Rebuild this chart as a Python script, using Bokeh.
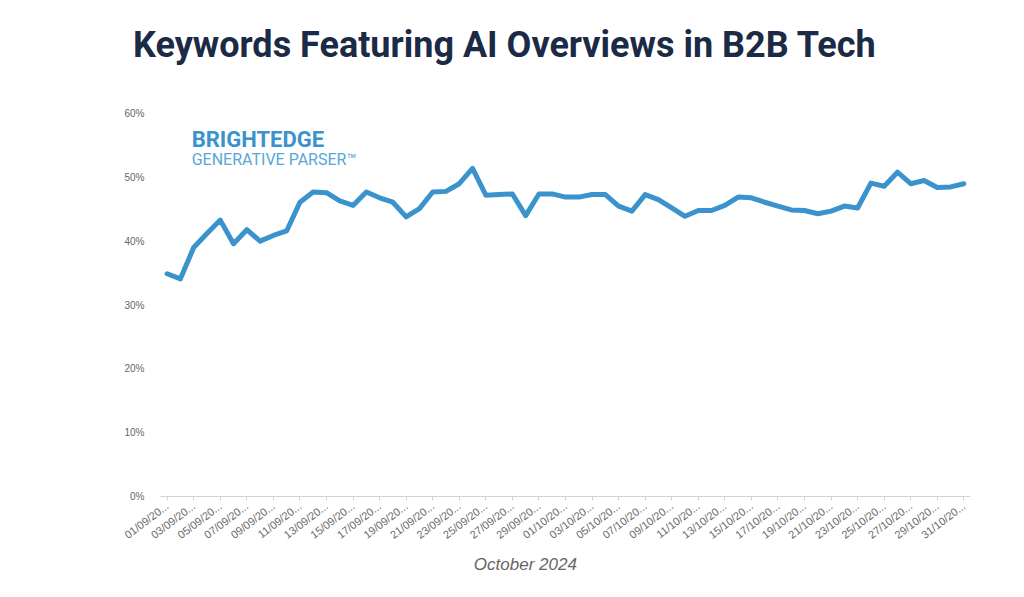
from bokeh.plotting import figure
from bokeh.models import ColumnDataSource, FixedTicker, PrintfTickFormatter, Label, Range1d, Div
from bokeh.layouts import column
from bokeh.embed import file_html
from bokeh.resources import INLINE

# ---- data ----
dates = [f"{d:02d}/09/2024" for d in range(1, 31)] + [f"{d:02d}/10/2024" for d in range(1, 32)]
share = [34.9, 34.1, 39.0, 41.2, 43.3, 39.6, 41.8, 40.0, 40.9, 41.6,
         46.1, 47.7, 47.6, 46.3, 45.6, 47.7, 46.8, 46.1, 43.8, 45.1,
         47.7, 47.8, 49.0, 51.4, 47.2, 47.3, 47.4, 44.0, 47.4, 47.4,
         46.9, 46.9, 47.3, 47.3, 45.5, 44.7, 47.3, 46.5, 45.2, 43.9,
         44.8, 44.8, 45.6, 46.9, 46.8, 46.1, 45.5, 44.9, 44.8, 44.3,
         44.7, 45.5, 45.2, 49.1, 48.6, 50.8, 49.0, 49.5, 48.4, 48.5, 49.0]
y_ticks = [0, 10, 20, 30, 40, 50, 60]
title_text = "Keywords Featuring AI Overviews in B2B Tech"
x_title = "October 2024"

idx = list(range(len(dates)))
src = ColumnDataSource(dict(x=idx, y=share, date=dates))

title_div = Div(text=title_text, width=1000, height=75, margin=0,
                styles={"font-family": "Roboto", "font-weight": "700", "font-size": "36px",
                        "color": "#1b2a45", "line-height": "36px", "padding-top": "27px",
                        "padding-left": "133px", "white-space": "nowrap", "overflow": "visible"})

p = figure(width=1000, height=510, output_backend="svg", toolbar_location=None,
           x_range=Range1d(-0.5, len(dates) - 0.5), y_range=Range1d(0, 60),
           min_border_left=160, min_border_right=30, min_border_top=38, min_border_bottom=89,
           margin=0)
p.outline_line_color = None
p.xgrid.grid_line_color = None
p.ygrid.grid_line_color = None

p.line("x", "y", source=src, line_color="#3a93cc", line_width=5, line_join="round", line_cap="round")

# y axis
p.yaxis.ticker = FixedTicker(ticks=y_ticks)
p.yaxis.formatter = PrintfTickFormatter(format="%d%%")
p.yaxis.axis_line_color = None
p.yaxis.major_tick_line_color = None
p.yaxis.minor_tick_line_color = None
p.yaxis.major_label_text_font = "Liberation Sans"
p.yaxis.major_label_text_font_size = "10px"
p.yaxis.major_label_text_color = "#666666"
p.yaxis.major_label_standoff = 10

# x axis
ticks = idx[::2]
p.xaxis.ticker = FixedTicker(ticks=ticks)
p.xaxis.major_label_overrides = {i: dates[i][:8] + "..." for i in ticks}
p.xaxis.major_label_orientation = 0.65
p.xaxis.axis_line_color = "#d4d4d4"
p.xaxis.major_tick_line_color = "#d4d4d4"
p.xaxis.major_tick_in = 0
p.xaxis.major_tick_out = 4
p.xaxis.minor_tick_line_color = None
p.xaxis.major_label_text_font = "Liberation Sans"
p.xaxis.major_label_text_font_size = "11px"
p.xaxis.major_label_text_color = "#6a6a6a"
p.xaxis.major_label_standoff = 4
p.xaxis.axis_label = x_title + "\u00a0" * 17
p.xaxis.axis_label_text_font = "Liberation Sans"
p.xaxis.axis_label_text_font_style = "italic"
p.xaxis.axis_label_text_font_size = "17px"
p.xaxis.axis_label_text_color = "#666666"
p.xaxis.axis_label_standoff = 6

# logo text inside the plot area
p.add_layout(Label(x=1.85, y=55.9, text="BRIGHTEDGE", text_font="Roboto", text_font_style="bold",
                   text_font_size="22px", text_color="#3a93cc", text_baseline="alphabetic"))
p.add_layout(Label(x=1.85, y=52.8, text="GENERATIVE PARSER\u2122", text_font="Roboto",
                   text_font_size="16px", text_color="#5aa6d6", text_baseline="alphabetic"))

layout = column(title_div, p, spacing=0, margin=0)
open("out.html", "w").write(file_html(layout, INLINE))
